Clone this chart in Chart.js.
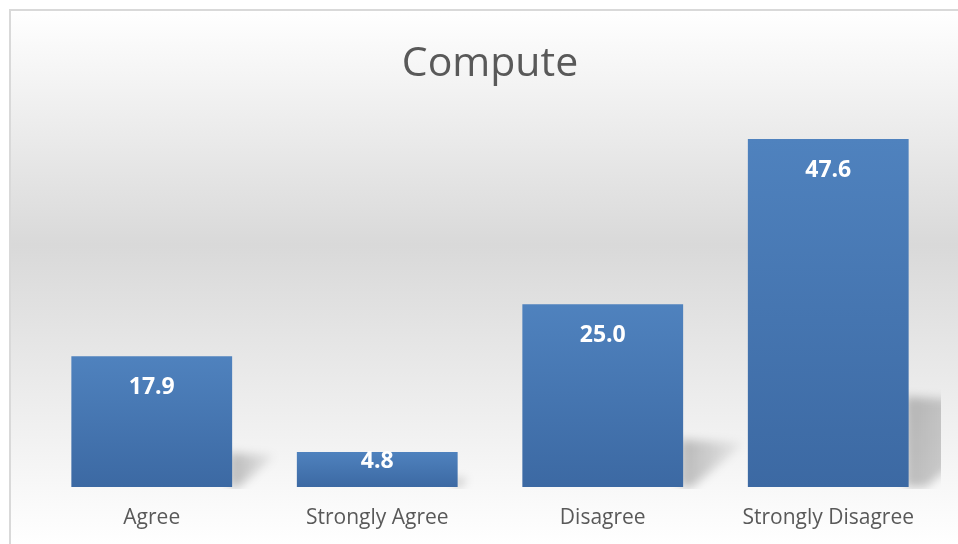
<!DOCTYPE html>
<html>
<head>
<meta charset="utf-8">
<script src="https://cdn.jsdelivr.net/npm/chart.js@4/dist/chart.umd.min.js"></script>
<style>
  html, body { margin: 0; padding: 0; background: #fff; }
  #wrap { width: 958px; height: 544px; }
</style>
</head>
<body>
<div id="wrap"><canvas id="chart" width="958" height="544"></canvas></div>
<script>
const categories = ['Agree', 'Strongly Agree', 'Disagree', 'Strongly Disagree'];
const values = [17.9, 4.8, 25.0, 47.6];

const FONT = '"Open Sans", "Noto Sans", sans-serif';
const TEXT_GREY = '#595959';

// page background: white -> grey -> white, plus the thin frame
const backdrop = {
  id: 'backdrop',
  beforeDraw(chart) {
    const { ctx, width, height } = chart;
    ctx.save();
    const g = ctx.createLinearGradient(0, 10, 0, height);
    g.addColorStop(0, '#ffffff');
    g.addColorStop(0.44, '#d9d9d9');
    g.addColorStop(1, '#ffffff');
    ctx.fillStyle = '#ffffff';
    ctx.fillRect(0, 0, width, height);
    ctx.fillStyle = g;
    ctx.fillRect(10, 10, width - 10, height - 10);
    ctx.strokeStyle = '#d9d9d9';
    ctx.lineWidth = 2;
    ctx.beginPath();
    ctx.moveTo(10, height + 5);
    ctx.lineTo(10, 10);
    ctx.lineTo(width + 5, 10);
    ctx.stroke();
    ctx.restore();
  }
};

// soft perspective shadow behind each bar
const barShadows = {
  id: 'barShadows',
  beforeDatasetsDraw(chart) {
    const { ctx, chartArea } = chart;
    const meta = chart.getDatasetMeta(0);
    ctx.save();
    ctx.beginPath();
    ctx.rect(chartArea.left, chartArea.top, chartArea.right - chartArea.left, chartArea.bottom - chartArea.top + 2);
    ctx.clip();
    ctx.filter = 'blur(5px)';
    meta.data.forEach(bar => {
      const { x, y, base, width } = bar.getProps(['x', 'y', 'base', 'width'], true);
      const h = base - y;
      const r = x + width / 2;
      const g = ctx.createLinearGradient(r, 0, r + 0.33 * h, 0);
      g.addColorStop(0, 'rgba(0,0,0,0.24)');
      g.addColorStop(1, 'rgba(0,0,0,0.04)');
      ctx.fillStyle = g;
      ctx.beginPath();
      ctx.moveTo(r - 3, base - 0.26 * h);
      ctx.lineTo(r + 0.33 * h, base - 0.24 * h);
      ctx.lineTo(r + 0.05 * h, base);
      ctx.lineTo(r - 3, base);
      ctx.closePath();
      ctx.fill();
    });
    ctx.restore();
  }
};

// white value labels just inside the top of each bar
const valueLabels = {
  id: 'valueLabels',
  afterDatasetsDraw(chart) {
    const { ctx } = chart;
    const meta = chart.getDatasetMeta(0);
    ctx.save();
    ctx.font = 'bold 23px ' + FONT;
    ctx.fillStyle = '#ffffff';
    ctx.textAlign = 'center';
    ctx.textBaseline = 'middle';
    meta.data.forEach((bar, i) => {
      const { x, y, base } = bar.getProps(['x', 'y', 'base'], true);
      const h = base - y;
      const off = Math.min(31, (h - 16) / 2);
      ctx.fillText(values[i].toFixed(1), x, y + off);
    });
    ctx.restore();
  }
};

function barFill(context) {
  const chart = context.chart;
  if (!chart.chartArea || context.type !== 'data') return '#4a7ebb';
  const ys = chart.scales.y;
  const top = ys.getPixelForValue(context.raw);
  const base = ys.getPixelForValue(0);
  const g = chart.ctx.createLinearGradient(0, top, 0, base);
  g.addColorStop(0, '#4f82be');
  g.addColorStop(1, '#3c69a3');
  return g;
}

new Chart(document.getElementById('chart'), {
  type: 'bar',
  data: {
    labels: categories,
    datasets: [{
      data: values,
      backgroundColor: barFill,
      borderWidth: 0,
      barPercentage: 0.713,
      categoryPercentage: 1.0
    }]
  },
  options: {
    responsive: false,
    animation: false,
    layout: { padding: { left: 39, right: 17, top: 0, bottom: 0 } },
    plugins: {
      legend: { display: false },
      tooltip: { enabled: false },
      title: {
        display: true,
        text: 'Compute',
        color: TEXT_GREY,
        font: { family: FONT, size: 41, weight: 'normal' },
        padding: { top: 40, bottom: 32.3 }
      }
    },
    scales: {
      x: {
        grid: { display: false, drawTicks: false },
        border: { display: false },
        ticks: {
          color: TEXT_GREY,
          font: { family: FONT, size: 21 },
          padding: 18,
          maxRotation: 0
        },
        afterFit(scale) { scale.height = 57; }
      },
      y: {
        display: false,
        min: 0,
        max: 50
      }
    }
  },
  plugins: [backdrop, barShadows, valueLabels]
});
</script>
</body>
</html>
